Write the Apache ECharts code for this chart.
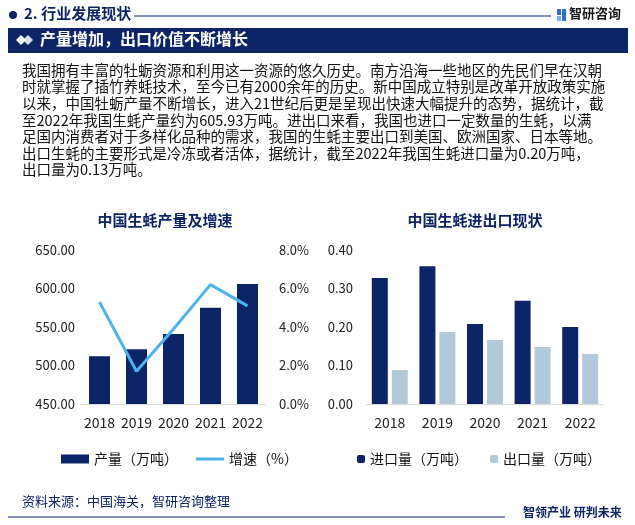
<!DOCTYPE html>
<html>
<head>
<meta charset="utf-8">
<script src="https://cdn.jsdelivr.net/npm/echarts@6/dist/echarts.min.js"></script>
<style>
  html, body { margin: 0; padding: 0; background: #fff; }
  #chart { width: 635px; height: 525px; }
</style>
</head>
<body>
<div id="chart"></div>
<script>
// data
let years = ['2018', '2019', '2020', '2021', '2022']
let output = [512, 521, 541, 575, 605.93]        // 产量（万吨）
let growth = [5.3, 1.7, 3.9, 6.2, 5.1]            // 增速（%）
let imports = [0.327, 0.358, 0.208, 0.268, 0.20]  // 进口量（万吨）
let exports = [0.088, 0.187, 0.166, 0.148, 0.13]  // 出口量（万吨）

let navy = '#0d2566'
let font = '"Noto Sans CJK SC", "Noto Sans", sans-serif'

let paragraph = [
  '我国拥有丰富的牡蛎资源和利用这一资源的悠久历史。南方沿海一些地区的先民们早在汉朝',
  '时就掌握了插竹养蚝技术，至今已有2000余年的历史。新中国成立特别是改革开放政策实施',
  '以来，中国牡蛎产量不断增长，进入21世纪后更是呈现出快速大幅提升的态势，据统计，截',
  '至2022年我国生蚝产量约为605.93万吨。进出口来看，我国也进口一定数量的生蚝，以满',
  '足国内消费者对于多样化品种的需求，我国的生蚝主要出口到美国、欧洲国家、日本等地。',
  '出口生蚝的主要形式是冷冻或者活体，据统计，截至2022年我国生蚝进口量为0.20万吨，',
  '出口量为0.13万吨。'
]

var chart = echarts.init(document.getElementById('chart'))

let axisLabel = { color: '#222', fontSize: 13, fontFamily: font }

let option = {
  backgroundColor: '#fff',
  textStyle: { fontFamily: font },
  animation: false,
  title: [
    {
      text: '中国生蚝产量及增速',
      left: 160, top: 208, textAlign: 'center',
      textStyle: { color: navy, fontSize: 15, fontWeight: 'bold', fontFamily: font }
    },
    {
      text: '中国生蚝进出口现状',
      left: 470, top: 208, textAlign: 'center',
      textStyle: { color: navy, fontSize: 15, fontWeight: 'bold', fontFamily: font }
    }
  ],
  legend: [
    {
      left: 56, top: 447,
      itemWidth: 28, itemHeight: 9, itemGap: 18,
      textStyle: { color: '#111', fontSize: 14, fontFamily: font },
      data: [
        { name: '产量（万吨）', icon: 'rect' },
        { name: '增速（%）', icon: 'path://M0,0 L28,0 L28,3 L0,3 Z' }
      ]
    },
    {
      left: 352, top: 447,
      itemWidth: 8, itemHeight: 8, itemGap: 22,
      textStyle: { color: '#111', fontSize: 14, fontFamily: font },
      data: ['进口量（万吨）', '出口量（万吨）']
    }
  ],
  grid: [
    { left: 81, right: 369, top: 250, height: 154 },
    { left: 366, right: 31, top: 250, height: 154 }
  ],
  xAxis: [
    {
      type: 'category', gridIndex: 0, data: years,
      axisLine: { lineStyle: { color: '#d9d9d9' } },
      axisTick: { show: false },
      axisLabel: { ...axisLabel, fontSize: 14, margin: 12, interval: 0 }
    },
    {
      type: 'category', gridIndex: 1, data: years,
      axisLine: { lineStyle: { color: '#d9d9d9' } },
      axisTick: { show: false },
      axisLabel: { ...axisLabel, fontSize: 14, margin: 12, interval: 0 }
    }
  ],
  yAxis: [
    {
      type: 'value', gridIndex: 0, min: 450, max: 650, interval: 50,
      splitLine: { show: false },
      axisLabel: { ...axisLabel, margin: 6, formatter: v => v.toFixed(2) }
    },
    {
      type: 'value', gridIndex: 0, min: 0, max: 8, interval: 2, position: 'right',
      splitLine: { show: false },
      axisLabel: { ...axisLabel, margin: 13, formatter: v => v.toFixed(1) + '%' }
    },
    {
      type: 'value', gridIndex: 1, min: 0, max: 0.4, interval: 0.1,
      splitLine: { show: false },
      axisLabel: { ...axisLabel, margin: 13, formatter: v => v.toFixed(2) }
    }
  ],
  series: [
    {
      name: '产量（万吨）', type: 'bar', xAxisIndex: 0, yAxisIndex: 0,
      data: output, barWidth: 21,
      itemStyle: { color: navy }
    },
    {
      name: '增速（%）', type: 'line', xAxisIndex: 0, yAxisIndex: 1,
      data: growth, symbol: 'none',
      lineStyle: { color: '#4db3ec', width: 3 },
      itemStyle: { color: '#4db3ec' }
    },
    {
      name: '进口量（万吨）', type: 'bar', xAxisIndex: 1, yAxisIndex: 2,
      data: imports, barWidth: 16, barGap: '25%',
      itemStyle: { color: navy }
    },
    {
      name: '出口量（万吨）', type: 'bar', xAxisIndex: 1, yAxisIndex: 2,
      data: exports, barWidth: 16, barGap: '25%',
      itemStyle: { color: '#b1c9d8' }
    }
  ],
  graphic: [
    // section header
    { type: 'circle', shape: { cx: 13, cy: 15, r: 4 }, style: { fill: navy } },
    {
      type: 'text', left: 24, top: 6,
      style: { text: '2. 行业发展现状', fill: navy, font: 'bold 15px ' + font }
    },
    { type: 'line', shape: { x1: 134, y1: 16, x2: 551, y2: 16 }, style: { stroke: navy, lineWidth: 1 } },
    { type: 'rect', shape: { x: 557, y: 9, width: 4, height: 6 }, style: { fill: '#2f6fd1' } },
    { type: 'rect', shape: { x: 562, y: 9, width: 4, height: 12 }, style: { fill: '#2f6fd1' } },
    { type: 'rect', shape: { x: 557, y: 16, width: 4, height: 5 }, style: { fill: '#7fb0ea' } },
    {
      type: 'text', left: 569, top: 7,
      style: { text: '智研咨询', fill: '#1a1a1a', font: 'bold 13px ' + font }
    },
    // title bar
    { type: 'rect', shape: { x: 8, y: 28, width: 620, height: 25 }, style: { fill: navy } },
    { type: 'polygon', shape: { points: [[16, 40], [21, 35], [26, 40], [21, 45]] }, style: { fill: '#fff' } },
    { type: 'polygon', shape: { points: [[23, 40], [28, 35], [33, 40], [28, 45]] }, style: { fill: '#fff', opacity: 0.85 } },
    {
      type: 'text', left: 40, top: 31,
      style: { text: '产量增加，出口价值不断增长', fill: '#fff', font: 'bold 16px ' + font }
    },
    // paragraph
    {
      type: 'text', left: 22, top: 62,
      style: { text: paragraph.join('\n'), fill: '#111', font: '14.5px ' + font, lineHeight: 16.6 }
    },
    // footer
    {
      type: 'text', left: 22, top: 495,
      style: { text: '资料来源：中国海关，智研咨询整理', fill: navy, font: '13px ' + font }
    },
    { type: 'line', shape: { x1: 8, y1: 517, x2: 505, y2: 517 }, style: { stroke: navy, lineWidth: 1 } },
    {
      type: 'text', left: 523, top: 506,
      style: { text: '智领产业 研判未来', fill: navy, font: 'bold 12px ' + font }
    }
  ]
}

chart.setOption(option)
</script>
</body>
</html>
